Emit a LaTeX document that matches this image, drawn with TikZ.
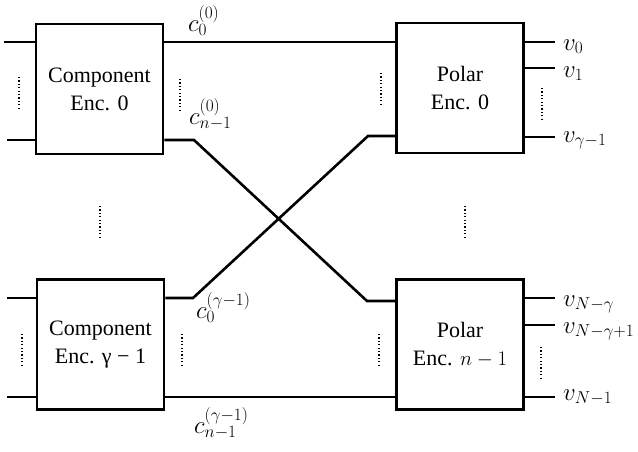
\documentclass[tikz,border=0pt]{standalone}
\usepackage{fontspec}
\setmainfont{Liberation Serif}
\begin{document}
\begin{tikzpicture}[x=1pt,y=-1pt,
  encbox/.style={draw,line width=2.6pt,minimum width=127pt,minimum height=130pt,inner sep=0pt,
    align=center,font=\fontsize{22}{28}\selectfont},
  wire/.style={line width=2.6pt},
  dotline/.style={line width=1.3pt,dash pattern=on 1.2pt off 2.2pt},
  lab/.style={anchor=base west,inner sep=0pt,font=\fontsize{27}{31}\selectfont}]
\useasboundingbox (0,0) rectangle (638,451);
% boxes
\node[encbox] (c0) at (99.5,89) {Component\\Enc. 0};
\node[encbox] (p0) at (460,88) {Polar\\Enc. 0};
\node[encbox] (cg) at (100.5,344.5) {Component\\Enc. γ − 1};
\node[encbox] (pn) at (460,344.5) {Polar\\Enc. $n-1$};
% free ends and bends
\coordinate (i1) at (4,42);
\coordinate (i2) at (7,140);
\coordinate (i3) at (7,298);
\coordinate (i4) at (7,397);
\coordinate (b1) at (194,140);
\coordinate (b2) at (367,301);
\coordinate (b3) at (193,298);
\coordinate (b4) at (368,136);
\coordinate (o1) at (555,42);
\coordinate (o2) at (555,68);
\coordinate (o3) at (555,137);
\coordinate (o4) at (555,298);
\coordinate (o5) at (555,325);
\coordinate (o6) at (555,397);
% input wires
\draw[wire] (i1) -- (c0.west |- i1);
\draw[wire] (i2) -- (c0.west |- i2);
\draw[wire] (i3) -- (cg.west |- i3);
\draw[wire] (i4) -- (cg.west |- i4);
% middle wires
\draw[wire] (c0.east |- i1) -- (p0.west |- i1);
\draw[wire] (c0.east |- b1) -- (b1) -- (b2) -- (pn.west |- b2);
\draw[wire] (cg.east |- b3) -- (b3) -- (b4) -- (p0.west |- b4);
\draw[wire] (cg.east |- i4) -- (pn.west |- i4);
% output wires
\draw[wire] (p0.east |- o1) -- (o1);
\draw[wire] (p0.east |- o2) -- (o2);
\draw[wire] (p0.east |- o3) -- (o3);
\draw[wire] (pn.east |- o4) -- (o4);
\draw[wire] (pn.east |- o5) -- (o5);
\draw[wire] (pn.east |- o6) -- (o6);
% dotted lines
\draw[dotline] (19,77) -- (19,110);
\draw[dotline] (180,79) -- (180,111);
\draw[dotline] (100,206) -- (100,238);
\draw[dotline] (381,73) -- (381,106);
\draw[dotline] (542,88) -- (542,120);
\draw[dotline] (465,206) -- (465,238);
\draw[dotline] (22,334) -- (22,367);
\draw[dotline] (182,334) -- (182,367);
\draw[dotline] (379,334) -- (379,367);
\draw[dotline] (541,347) -- (541,379);
% labels
\node[lab] (l1) at (188,31) {$c_0^{(0)}$};
\node[lab] (l2) at (189,124) {$c_{n-1}^{(0)}$};
\node[lab] (l3) at (196,318) {$c_0^{(\gamma-1)}$};
\node[lab] (l4) at (194,433) {$c_{n-1}^{(\gamma-1)}$};
\node[lab] (v1) at (563,50) {$v_0$};
\node[lab] (v2) at (563,77) {$v_1$};
\node[lab] (v3) at (563,142) {$v_{\gamma-1}$};
\node[lab] (v4) at (563,306) {$v_{N-\gamma}$};
\node[lab] (v5) at (563,333) {$v_{N-\gamma+1}$};
\node[lab] (v6) at (563,400) {$v_{N-1}$};
\end{tikzpicture}
\end{document}
